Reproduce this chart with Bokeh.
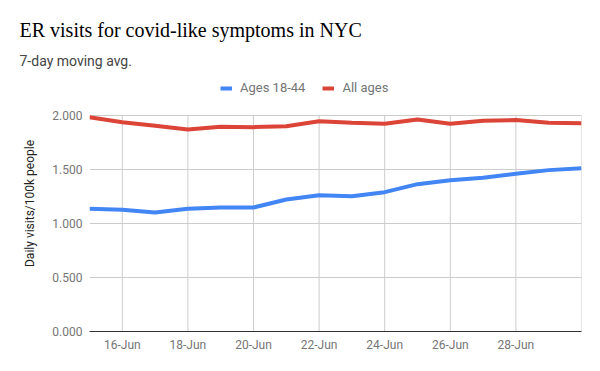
from bokeh.plotting import figure
from bokeh.models import Title, Legend, LegendItem, FixedTicker, NumeralTickFormatter
from bokeh.embed import file_html
from bokeh.resources import INLINE

# ---- data ----
days = [15, 16, 17, 18, 19, 20, 21, 22, 23, 24, 25, 26, 27, 28, 29, 30]  # June
ages_18_44 = [1.136, 1.127, 1.102, 1.136, 1.148, 1.148, 1.222, 1.262, 1.253, 1.290,
              1.364, 1.401, 1.423, 1.460, 1.494, 1.512]
all_ages = [1.984, 1.938, 1.905, 1.870, 1.895, 1.892, 1.901, 1.947, 1.932, 1.923,
            1.963, 1.923, 1.950, 1.957, 1.932, 1.929]
x_ticks = [16, 18, 20, 22, 24, 26, 28, 30]
x_tick_labels = ["16-Jun", "18-Jun", "20-Jun", "22-Jun", "24-Jun", "26-Jun", "28-Jun", ""]
y_ticks = [0, 0.5, 1.0, 1.5, 2.0]

title_text = "ER visits for covid-like symptoms in NYC"
subtitle_text = "7-day moving avg."
series_names = ["Ages 18-44", "All ages"]
colors = ["#4285F4", "#DB4437"]

# frame extends above the 2.000 line to hold the legend (frame top ~ y 75 px)
Y_TOP = 2.37

p = figure(width=600, height=371, output_backend="svg", toolbar_location=None,
           x_range=(days[0], days[-1]), y_range=(y_ticks[0], Y_TOP),
           min_border_left=89, min_border_right=19, min_border_top=75, min_border_bottom=40)
p.title = None
p.outline_line_color = None
p.background_fill_color = "white"
p.border_fill_color = "white"

# vertical grid lines limited to the data area (0 .. 2.000)
p.segment(x0=x_ticks, y0=[y_ticks[0]] * len(x_ticks), x1=x_ticks, y1=[y_ticks[-1]] * len(x_ticks),
          line_color="#cccccc", line_width=1, level="underlay")

r1 = p.line(days, ages_18_44, line_color=colors[0], line_width=4)
r2 = p.line(days, all_ages, line_color=colors[1], line_width=4)

# axes
p.xaxis.ticker = FixedTicker(ticks=x_ticks)
p.xaxis.major_label_overrides = {t: lab for t, lab in zip(x_ticks, x_tick_labels)}
p.yaxis.ticker = FixedTicker(ticks=y_ticks)
p.yaxis.formatter = NumeralTickFormatter(format="0.000")
p.yaxis.bounds = (y_ticks[0], y_ticks[-1])
for ax in (p.xaxis, p.yaxis):
    ax.major_tick_line_color = None
    ax.minor_tick_line_color = None
    ax.major_tick_out = 0
    ax.major_tick_in = 0
    ax.minor_tick_out = 0
    ax.minor_tick_in = 0
    ax.major_label_text_font = "Roboto"
    ax.major_label_text_font_size = "12px"
    ax.major_label_text_color = "#757575"
p.yaxis.axis_line_color = None
p.xaxis.axis_line_color = "#333333"
p.xaxis.axis_line_width = 1.2
p.xaxis.major_label_standoff = 6
p.yaxis.major_label_standoff = 7
p.yaxis.axis_label = "Daily visits/100k people"
p.yaxis.axis_label_text_font = "Roboto"
p.yaxis.axis_label_text_font_size = "12px"
p.yaxis.axis_label_text_font_style = "normal"
p.yaxis.axis_label_text_color = "#222222"
p.yaxis.axis_label_standoff = 12

p.xgrid.grid_line_color = None
p.ygrid.grid_line_color = "#cccccc"
p.ygrid.ticker = FixedTicker(ticks=y_ticks)

legend = Legend(items=[LegendItem(label=series_names[0], renderers=[r1]),
                       LegendItem(label=series_names[1], renderers=[r2])],
                orientation="horizontal", location=(131, 236),
                glyph_width=12, glyph_height=14, label_height=14, label_standoff=8,
                spacing=17, padding=0, margin=0, border_line_color=None,
                background_fill_alpha=0,
                label_text_font="Roboto", label_text_font_size="13px", label_text_color="#757575")
p.add_layout(legend, "center")

p.add_layout(Title(text=subtitle_text, align="left", offset=-70, standoff=14,
                   text_font="Roboto", text_font_size="14px", text_font_style="normal",
                   text_color="#444444"), "above")
p.add_layout(Title(text=title_text, align="left", offset=-70, standoff=5,
                   text_font="Liberation Serif", text_font_size="20px", text_font_style="normal",
                   text_color="#000000"), "above")

open("out.html", "w").write(file_html(p, INLINE))
